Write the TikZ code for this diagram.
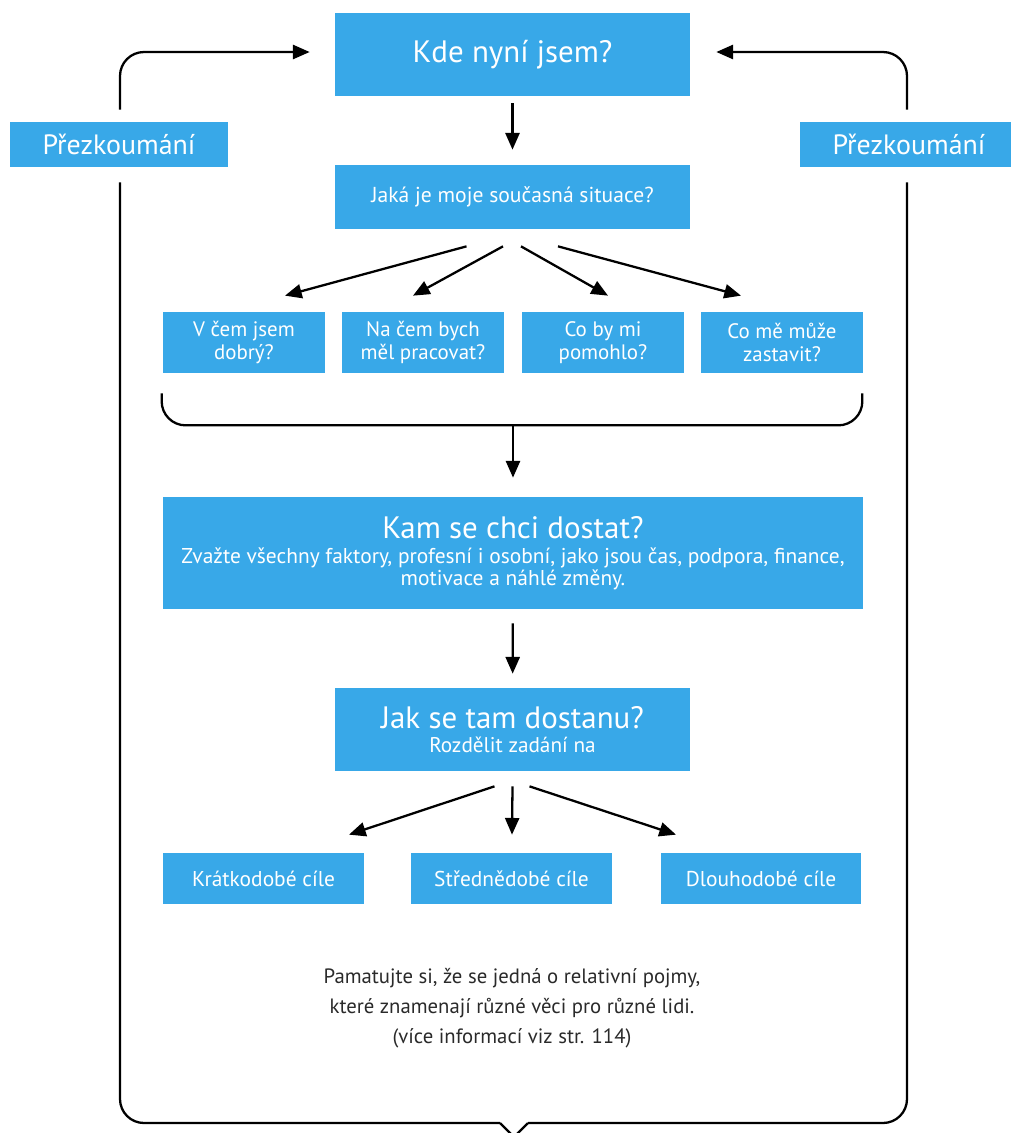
\documentclass[tikz,border=0pt]{standalone}
\usepackage{fontspec}
\setmainfont{PT Sans}
\usetikzlibrary{arrows.meta,calc}
\definecolor{boxblue}{HTML}{38A8E8}
\definecolor{notegray}{HTML}{2A2A2A}
\begin{document}
\begin{tikzpicture}[x=0.02cm,y=-0.02cm,
  box/.style={fill=boxblue,text=white,inner sep=0pt,align=center},
  arr/.style={-{Triangle[length=9.5pt,width=8pt]},line width=1.3pt},
  plainline/.style={line width=1.3pt},
  bigfont/.style={font=\fontsize{17.6}{21}\selectfont},
  revfont/.style={font=\fontsize{15.9}{18}\selectfont},
  midfont/.style={font=\fontsize{12.3}{15}\selectfont},
  smallfont/.style={font=\fontsize{11.9}{13}\selectfont},
  goalfont/.style={font=\fontsize{12.2}{14}\selectfont}]
\useasboundingbox (0,0) rectangle (1011,1133);
\clip (0,0) rectangle (1011,1133);

% boxes
\node[box,bigfont,minimum width=7.1cm,minimum height=1.66cm] (title) at (512.5,54.5) {Kde nyní jsem?};
\node[box,midfont,minimum width=7.1cm,minimum height=1.28cm] (jaka) at (512.5,197) {Jaká je moje současná situace?};
\node[box,revfont,minimum width=4.36cm,minimum height=0.9cm] (rev1) at (119,144.5) {Přezkoumání};
\node[box,revfont,minimum width=4.36cm,minimum height=0.9cm] (rev2) at (909,144.5) {Přezkoumání};

\node[box,smallfont,minimum width=3.24cm,minimum height=1.22cm] (b1) at (244,342.5) {V čem jsem\\dobrý?};
\node[box,smallfont,minimum width=3.24cm,minimum height=1.22cm] (b2) at (423,342.5) {Na čem bych\\měl pracovat?};
\node[box,smallfont,minimum width=3.24cm,minimum height=1.22cm] (b3) at (603,342.5) {Co by mi\\pomohlo?};
\node[box,smallfont,minimum width=3.24cm,minimum height=1.22cm] (b4) at (782,342.5) {Co mě může\\zastavit?};

\node[box,minimum width=14cm,minimum height=2.24cm] (kam) at (513,553)
  {\fontsize{17.6}{20}\selectfont Kam se chci dostat?\\[2pt]
   \fontsize{12.2}{13.6}\selectfont Zvažte všechny faktory, profesní i osobní, jako jsou čas, podpora, finance,\\[0.6pt]
   \fontsize{12.2}{13.6}\selectfont motivace a náhlé změny.};

\node[box,minimum width=7.1cm,minimum height=1.66cm] (jak) at (512.5,729.5)
  {\fontsize{17.6}{20}\selectfont Jak se tam dostanu?\\[2pt]
   \fontsize{12.1}{14}\selectfont Rozdělit zadání na};

\node[box,goalfont,minimum width=4.02cm,minimum height=1.02cm] (c1) at (263.5,878.5) {Krátkodobé cíle};
\node[box,goalfont,minimum width=4.02cm,minimum height=1.02cm] (c2) at (511.5,878.5) {Střednědobé cíle};
\node[box,goalfont,minimum width=4.02cm,minimum height=1.02cm] (c3) at (761,878.5) {Dlouhodobé cíle};

\node[text=notegray,align=center,font=\fontsize{11.8}{17.2}\selectfont,inner sep=0pt] (note) at (512,1008)
  {Pamatujte si, že se jedná o relativní pojmy,\\které znamenají různé věci pro různé lidi.\\(více informací viz str. 114)};

% arrows
\draw[arr,shorten <=0.14cm,shorten >=0.3cm] (title) -- (jaka);
\draw[arr] ($(jaka.south)+(-46,17)$) -- ($(b1.north)+(41,-16)$);
\draw[arr] ($(jaka.south)+(-9.5,17)$) -- ($(b2.north)+(-10,-16)$);
\draw[arr] ($(jaka.south)+(8.5,17)$) -- ($(b3.north)+(5,-16)$);
\draw[arr] ($(jaka.south)+(45.5,17)$) -- ($(b4.north)+(-41,-16)$);

% brace
\draw[plainline,rounded corners=0.48cm] ($(b1.south west)+(-1,20)$) -- ($(b1.south west)+(-1,52)$) -- ($(b4.south east)+(-1,52)$) -- ($(b4.south east)+(-1,20)$);
\coordinate (bc) at ($(b1.south)!0.5!(b4.south)+(0,52)$);
\draw[arr,shorten >=0.38cm] (bc) -- (kam);

\draw[arr,shorten <=0.28cm,shorten >=0.28cm] (kam) -- (jak);

\draw[arr] ($(jak.south)+(-18,15)$) -- ($(c1.north)+(85.5,-18)$);
\draw[arr] ($(jak.south)+(0,15)$) -- ($(c2.north)+(0.5,-18)$);
\draw[arr] ($(jak.south)+(17,15)$) -- ($(c3.north)+(-85,-18)$);

% review loop
\draw[arr,rounded corners=0.48cm] ($(rev1.north)+(1,-12)$) |- ($(title.west)+(-25,-2.5)$);
\draw[arr,rounded corners=0.48cm] ($(rev2.north)+(-2,-12)$) |- ($(title.east)+(26,-2.5)$);
\coordinate (vl) at (500,1123);
\coordinate (vt) at (514,1137);
\coordinate (vr) at (528,1123);
\draw[plainline,rounded corners=0.48cm] ($(rev1.south)+(1,15)$) |- (vl);
\draw[plainline,line join=miter] (vl) -- (vt) -- (vr);
\draw[plainline,rounded corners=0.48cm] (vr) -| ($(rev2.south)+(-2,15)$);
\end{tikzpicture}
\end{document}
